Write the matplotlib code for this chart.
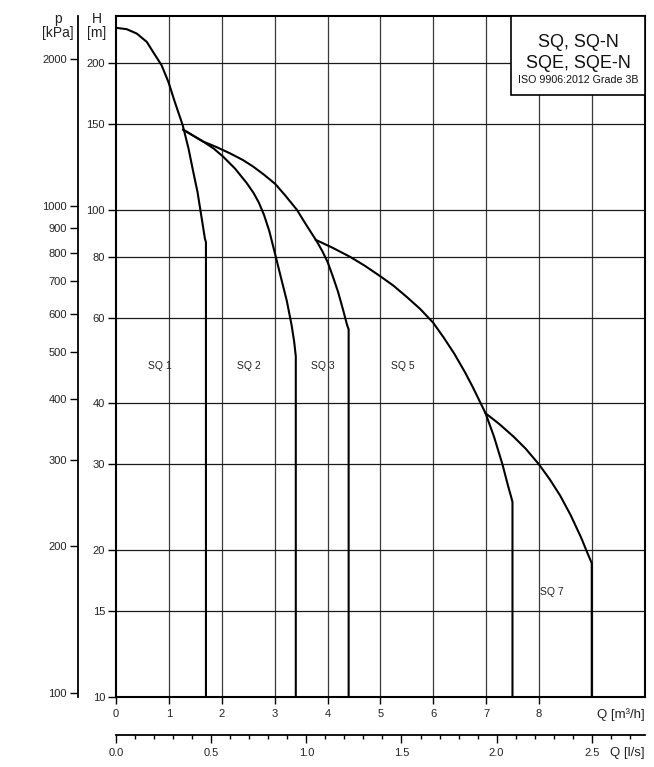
import numpy as np
import matplotlib
matplotlib.use("Agg")
import matplotlib.pyplot as plt
from matplotlib.ticker import NullLocator, MultipleLocator
from matplotlib.patches import Rectangle

plt.rcParams['font.family'] = ['Liberation Sans', 'DejaVu Sans']

# pump curves: Q [m3/h], H [m]
sq1_q = [0, 0.20, 0.39, 0.58, 0.70, 0.86, 0.99, 1.11, 1.26, 1.37, 1.46, 1.54, 1.62, 1.68, 1.70, 1.70]
sq1_h = [236.4, 234.9, 230.1, 221.2, 210.9, 198.1, 183.0, 166.6, 149.2, 133.6, 119.6, 108.8, 96.0, 87.3, 85.8, 10]

sq2_q = [1.27, 1.65, 1.85, 2.03, 2.25, 2.47, 2.60, 2.70, 2.80, 2.90, 3.00, 3.12, 3.23, 3.32, 3.37, 3.40, 3.40]
sq2_h = [146, 138, 133.5, 128.4, 121.5, 113.5, 108.3, 103.5, 97.5, 90.3, 81.8, 72.5, 65, 58, 53.5, 50, 10]

sq3_q = [1.27, 1.65, 1.90, 2.16, 2.40, 2.60, 2.80, 3.01, 3.20, 3.42, 3.60, 3.80, 3.90, 4.00,
         4.10, 4.20, 4.30, 4.37, 4.40, 4.40]
sq3_h = [146, 138, 134.5, 130.5, 126.5, 122.5, 118, 113, 107, 100, 93, 86, 82.3, 78.2,
         73, 67.8, 62, 58, 56.8, 10]

sq5_q = [3.78, 4.10, 4.43, 4.70, 5.00, 5.25, 5.50, 5.75, 6.00, 6.20, 6.40, 6.60, 6.75, 6.90,
         6.99, 7.15, 7.31, 7.42, 7.48, 7.50, 7.50]
sq5_h = [86.7, 83.5, 80, 76.8, 73.0, 69.8, 66.2, 62.6, 58.6, 54.6, 50.6, 46.4, 43.2, 40,
         38.2, 34.2, 30, 27, 25.6, 25.1, 10]

sq7_q = [6.99, 7.25, 7.52, 7.75, 8.00, 8.20, 8.40, 8.60, 8.80, 8.92, 9.00, 9.00]
sq7_h = [38.2, 36.3, 34.2, 32.3, 30.0, 28.0, 25.9, 23.6, 21.2, 19.7, 18.8, 10]

curve_labels = ["SQ 1", "SQ 2", "SQ 3", "SQ 5", "SQ 7"]
label_q = [0.82, 2.52, 3.91, 5.42, 8.25]
label_h = [47.7, 47.7, 47.7, 47.7, 16.4]

h_ticks = [10, 15, 20, 30, 40, 60, 80, 100, 150, 200]
p_ticks = [100, 200, 300, 400, 500, 600, 700, 800, 900, 1000, 2000]
q_ticks = [0, 1, 2, 3, 4, 5, 6, 7, 8]
ls_ticks = [0.0, 0.5, 1.0, 1.5, 2.0, 2.5]

W, Hpx = 654, 767
fig = plt.figure(figsize=(W / 100, Hpx / 100), dpi=100)
x0, x1, y0, y1 = 116.1, 644.6, 16.0, 696.6
ax = fig.add_axes([x0 / W, 1 - y1 / Hpx, (x1 - x0) / W, (y1 - y0) / Hpx])

ax.set_yscale('log')
ax.set_xlim(0, 10)
ax.set_ylim(10, 250)

# grid
for q in range(1, 10):
    ax.axvline(q, color='#3a3a3a', lw=0.9, zorder=1)
for h in h_ticks[1:]:
    ax.axhline(h, color='#1a1a1a', lw=0.9, zorder=1)

for q, h in [(sq1_q, sq1_h), (sq2_q, sq2_h), (sq3_q, sq3_h), (sq5_q, sq5_h), (sq7_q, sq7_h)]:
    ax.plot(q, h, color='black', lw=1.5, zorder=4, solid_joinstyle='round')

for t, q, h in zip(curve_labels, label_q, label_h):
    ax.text(q, h, t, fontsize=7.5, ha='center', va='center', color='#222222', zorder=5)

for s in ax.spines.values():
    s.set_linewidth(1.5)

ax.set_yticks(h_ticks, labels=[str(v) for v in h_ticks])
ax.yaxis.set_minor_locator(NullLocator())
ax.set_xticks(q_ticks, labels=[str(v) for v in q_ticks])
ax.tick_params(axis='y', length=6, width=1, pad=2, labelsize=8, labelcolor='#222222')
ax.tick_params(axis='x', length=5, width=1, pad=4, labelsize=8, labelcolor='#222222')

# pressure axis
pax = ax.secondary_yaxis((78 - x0) / (x1 - x0), functions=(lambda h: h * 9.81, lambda p: p / 9.81))
pax.set_yticks(p_ticks, labels=[str(v) for v in p_ticks])
pax.yaxis.set_minor_locator(NullLocator())
pax.tick_params(axis='y', length=6, width=1, pad=2, labelsize=8, labelcolor='#222222')
pax.spines['left'].set_linewidth(1.3)

# l/s axis
lax = ax.secondary_xaxis(-(735 - y1) / (y1 - y0), functions=(lambda q: q / 3.6, lambda l: l * 3.6))
lax.set_xticks(ls_ticks, labels=["%.1f" % v for v in ls_ticks])
lax.xaxis.set_minor_locator(MultipleLocator(0.1))
lax.tick_params(axis='x', which='major', length=6, width=1, pad=3, labelsize=8, labelcolor='#222222')
lax.tick_params(axis='x', which='minor', length=3, width=1)
lax.spines['bottom'].set_linewidth(1.3)

fig.text(645 / W, 1 - 715 / Hpx, "Q [m³/h]", ha='right', va='center', fontsize=9.5, color='#222222')
fig.text(645 / W, 1 - 753 / Hpx, "Q [l/s]", ha='right', va='center', fontsize=9.5, color='#222222')
fig.text(58 / W, 1 - 19 / Hpx, "p", ha='center', va='center', fontsize=10, color='#222222')
fig.text(58 / W, 1 - 33 / Hpx, "[kPa]", ha='center', va='center', fontsize=10, color='#222222')
fig.text(97 / W, 1 - 19 / Hpx, "H", ha='center', va='center', fontsize=10, color='#222222')
fig.text(97 / W, 1 - 33 / Hpx, "[m]", ha='center', va='center', fontsize=10, color='#222222')

# title box
bx = (511 - x0) / (x1 - x0)
by = (y1 - 95) / (y1 - y0)
ax.add_patch(Rectangle((bx, by), 1 - bx, 1 - by, transform=ax.transAxes,
                       facecolor='white', edgecolor='black', lw=1.2, zorder=6))
cx = (578 - x0) / (x1 - x0)
ax.text(cx, (y1 - 46.5) / (y1 - y0), "SQ, SQ-N", transform=ax.transAxes, ha='center',
        va='baseline', fontsize=13, zorder=7, color='#111111')
ax.text(cx, (y1 - 67.5) / (y1 - y0), "SQE, SQE-N", transform=ax.transAxes, ha='center',
        va='baseline', fontsize=13, zorder=7, color='#111111')
ax.text(cx, (y1 - 83) / (y1 - y0), "ISO 9906:2012 Grade 3B", transform=ax.transAxes, ha='center',
        va='baseline', fontsize=7.7, zorder=7, color='#111111')

fig.savefig("out.png", dpi=100)
